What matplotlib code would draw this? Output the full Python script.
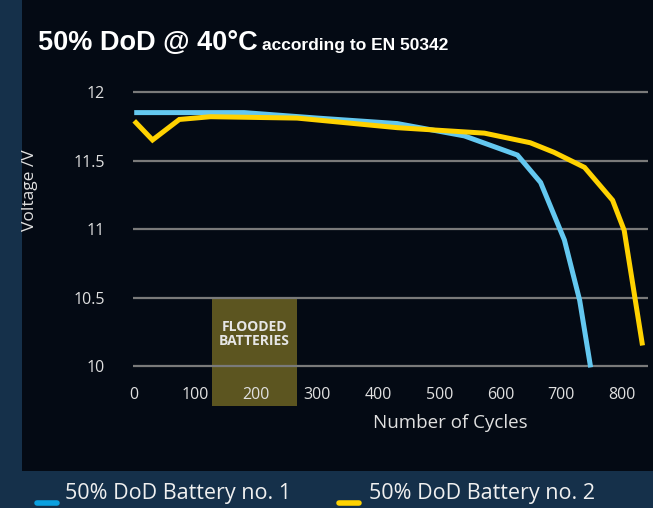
import numpy as np
import matplotlib
matplotlib.use("Agg")
import matplotlib.pyplot as plt
from matplotlib.patches import Rectangle
from matplotlib.lines import Line2D

# Data
cycles1 = [0, 180, 300, 431, 541, 628, 666, 705, 730, 748]
volts1 = [11.85, 11.85, 11.81, 11.77, 11.68, 11.54, 11.34, 10.92, 10.48, 9.99]

cycles2 = [0, 30, 74, 125, 267, 431, 574, 649, 688, 738, 784, 803, 833]
volts2 = [11.79, 11.65, 11.80, 11.82, 11.81, 11.74, 11.70, 11.63, 11.56, 11.45, 11.21, 10.99, 10.15]

yticks = [10, 10.5, 11, 11.5, 12]
ytick_labels = ["10", "10.5", "11", "11.5", "12"]
xticks = [0, 100, 200, 300, 400, 500, 600, 700, 800]
flooded_range = (127, 266)

series_names = ["50% DoD Battery no. 1", "50% DoD Battery no. 2"]
line_colors = ["#64c8f0", "#ffd200"]
legend_colors = ["#0aa0e0", "#ffd200"]

W, H = 653, 508
fig = plt.figure(figsize=(W / 100, H / 100), dpi=100, facecolor="#15304a")

# dark inner panel
fig.add_artist(Rectangle((22 / W, 1 - 471 / H), 1, 471 / H, transform=fig.transFigure,
                         facecolor="#040a14", edgecolor="none", zorder=0))

ax = fig.add_axes([133 / W, 1 - 370 / H, (648 - 133) / W, (370 - 80) / H])
ax.set_facecolor("none")
ax.set_xlim(-2, 842)
ax.set_ylim(9.971, 12.088)
for s in ax.spines.values():
    s.set_visible(False)

for y in yticks:
    ax.axhline(y, color="#7a7a7a", lw=1.6, zorder=1)

# flooded batteries box
ax.add_patch(Rectangle((flooded_range[0], 9.708), flooded_range[1] - flooded_range[0], 10.5 - 9.708,
                       facecolor="#5c5520", edgecolor="none", clip_on=False, zorder=0.5))
ax.text(sum(flooded_range) / 2, 10.235, "FLOODED\nBATTERIES", ha="center", va="center",
        color="#e6e6e6", fontsize=10, fontweight="bold", family="Open Sans",
        linespacing=1.05, zorder=3)

ax.plot(cycles1, volts1, color=line_colors[0], lw=3.6, solid_capstyle="butt",
        solid_joinstyle="miter", zorder=4, clip_on=False)
ax.plot(cycles2, volts2, color=line_colors[1], lw=3.6, solid_capstyle="butt",
        solid_joinstyle="miter", zorder=5, clip_on=False)

ax.set_yticks(yticks)
ax.set_yticklabels(ytick_labels)
ax.set_xticks(xticks)
ax.tick_params(axis="both", length=0, colors="#e0e0e0", labelsize=11.5)
ax.tick_params(axis="y", pad=20)
ax.tick_params(axis="x", pad=12)
for lab in ax.get_xticklabels() + ax.get_yticklabels():
    lab.set_family("Open Sans")

fig.text(450 / W, 1 - 423 / H, "Number of Cycles", ha="center", va="center",
         color="#e0e0e0", fontsize=13.5, family="Open Sans")
fig.text(30 / W, 1 - 190 / H, "Voltage /V", ha="center", va="center", rotation=90,
         color="#e0e0e0", fontsize=12.5, family="Open Sans")

# title
fig.text(38 / W, 1 - 50 / H, "50% DoD @ 40°C", ha="left", va="baseline",
         color="white", fontsize=19.5, fontweight="bold", family="Liberation Sans")
fig.text(262 / W, 1 - 50 / H, "according to EN 50342", ha="left", va="baseline",
         color="white", fontsize=12.5, fontweight="bold", family="Liberation Sans")

# legend
leg_x = [(37, 57, 65), (339, 359, 369)]
for (x0, x1, tx), name, c in zip(leg_x, series_names, legend_colors):
    fig.add_artist(Line2D([x0 / W, x1 / W], [1 - 503 / H, 1 - 503 / H], transform=fig.transFigure,
                          color=c, lw=4, solid_capstyle="round"))
    fig.text(tx / W, 1 - 494 / H, name, ha="left", va="center", color="#f0f0f0",
             fontsize=15.5, family="Open Sans")

fig.savefig("out.png", dpi=100, facecolor=fig.get_facecolor())
